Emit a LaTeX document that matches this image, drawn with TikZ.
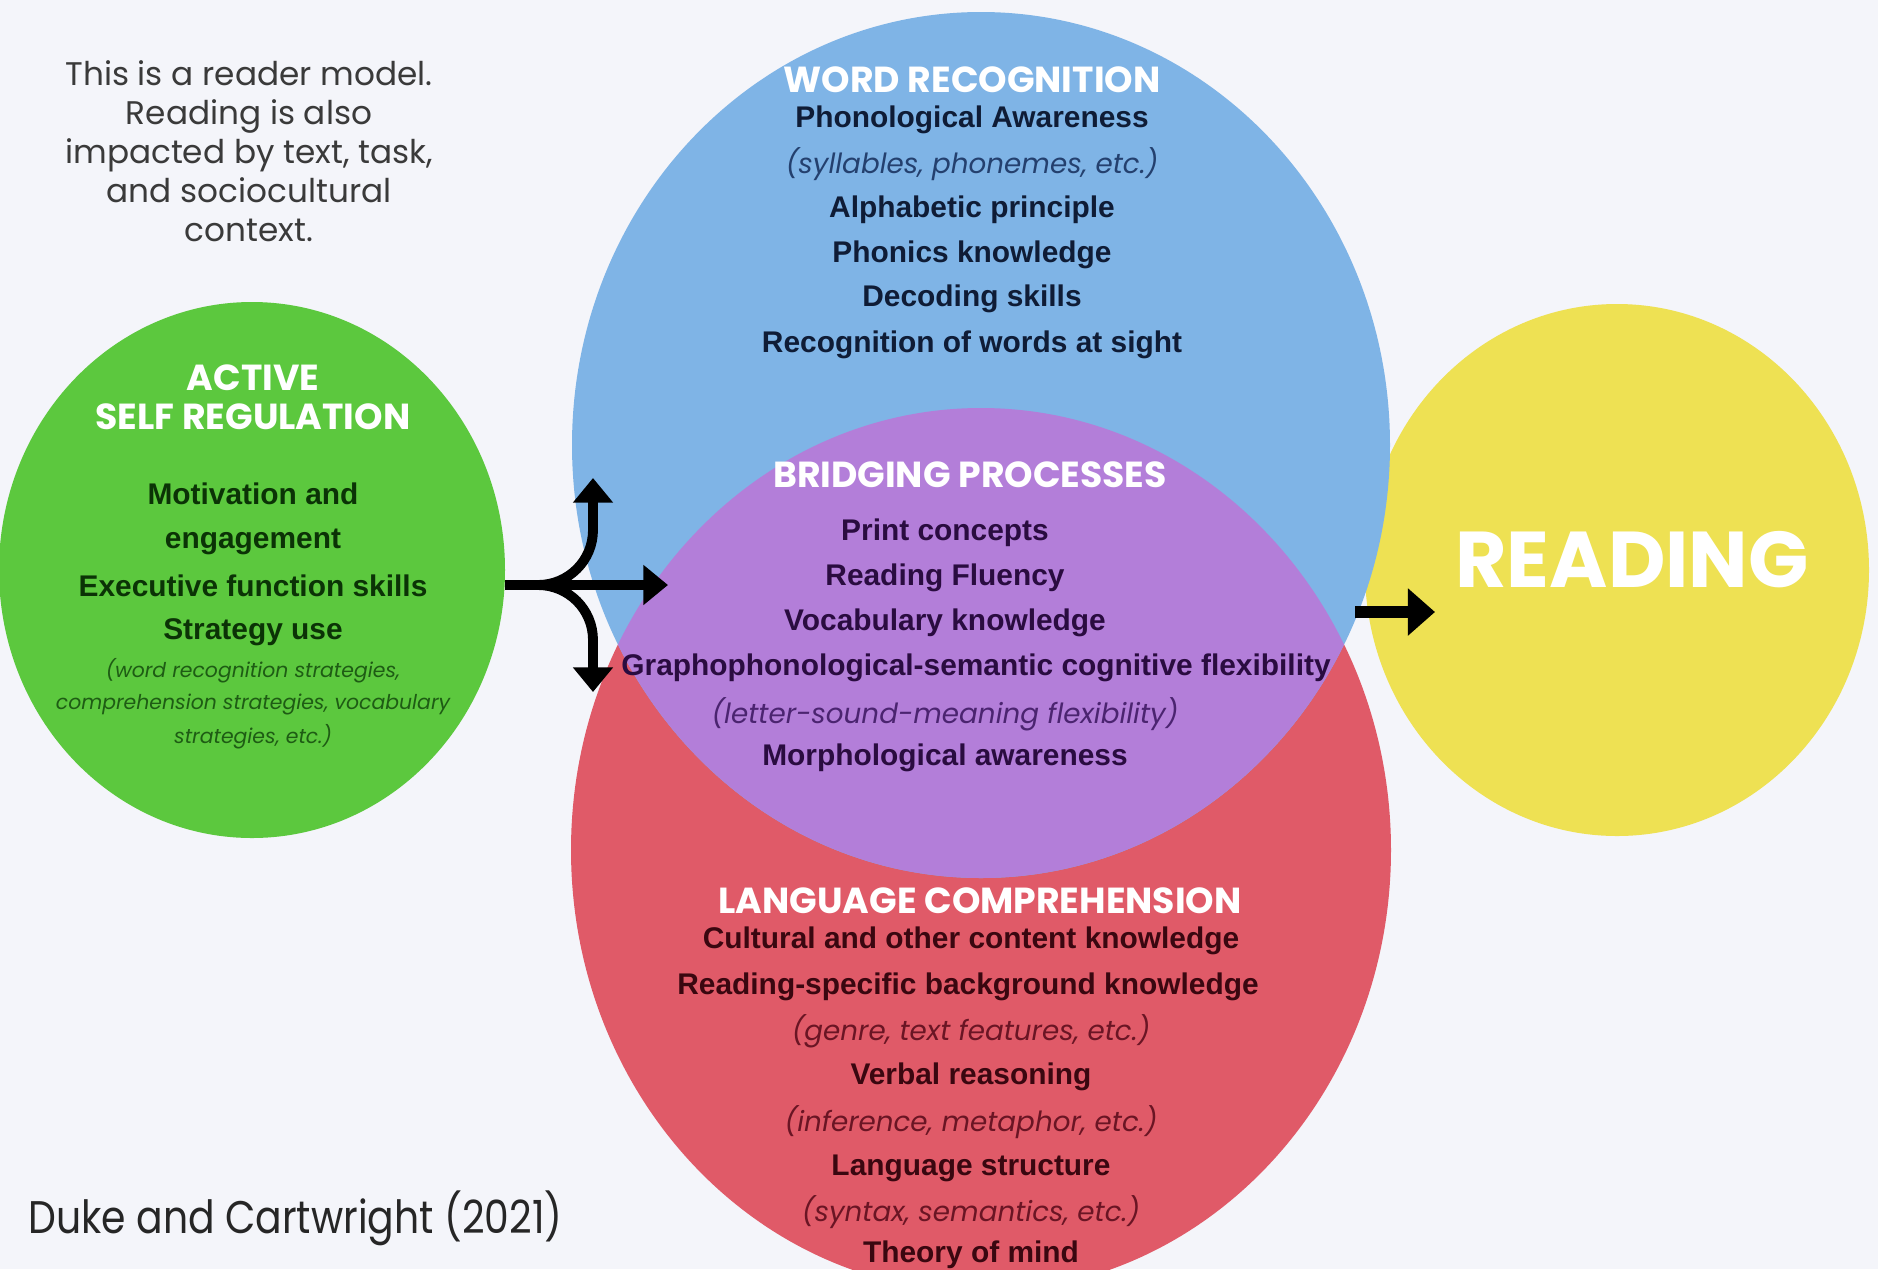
\documentclass[tikz,border=0pt]{standalone}
\usepackage{fontspec}
\setmainfont{Liberation Sans}
\newfontfamily\geofont{Poppins}
\newfontfamily\geonarrow[FakeStretch=0.86]{Poppins}
\usetikzlibrary{arrows.meta}

\definecolor{pagebg}{HTML}{F4F5FA}
\definecolor{srgreen}{HTML}{5CC83E}
\definecolor{wrblue}{HTML}{7FB4E6}
\definecolor{lcred}{HTML}{E05A68}
\definecolor{bppurple}{HTML}{B37ED9}
\definecolor{rdyellow}{HTML}{EEE153}
\definecolor{wrtext}{HTML}{0F1C36}
\definecolor{wrsub}{HTML}{24406E}
\definecolor{srtext}{HTML}{0B3306}
\definecolor{srsub}{HTML}{1E5C14}
\definecolor{bptext}{HTML}{2A0C40}
\definecolor{bpsub}{HTML}{4B2470}
\definecolor{lctext}{HTML}{3A0710}
\definecolor{lcsub}{HTML}{6A1524}
\definecolor{notegrey}{HTML}{3A3A3A}

\tikzset{
  headtxt/.style={text=white, font=\geofont\bfseries\fontsize{10.3}{12}\selectfont},
  itemtxt/.style={font=\bfseries\fontsize{8.5}{10}\selectfont},
  subtxt/.style={font=\geofont\itshape\fontsize{7.9}{10}\selectfont},
  tinytxt/.style={font=\geofont\itshape\fontsize{5.8}{7}\selectfont, text=srsub},
  forkarrow/.style={line width=2.8pt, -{Triangle[length=7pt,width=11pt]}},
}

\begin{document}
\begin{tikzpicture}[x=0.01cm,y=-0.01cm]
    \fill[pagebg] (0,0) rectangle (1878,1269);
    \useasboundingbox (0,0) rectangle (1878,1269);

    % the four circles
    \fill[srgreen] (252,570) ellipse [x radius=253, y radius=268];
    \fill[rdyellow] (1617,570) ellipse [x radius=252, y radius=266];
    \fill[lcred] (981,850) ellipse [x radius=410, y radius=442];
    \fill[wrblue] (981,445) ellipse [x radius=409, y radius=433];
    \begin{scope}
        \clip (981,445) ellipse [x radius=409, y radius=433];
        \fill[bppurple] (981,850) ellipse [x radius=410, y radius=442];
    \end{scope}

    % note and source
    \node[text=notegrey, align=center, font=\geofont\fontsize{9.3}{11.1}\selectfont] (note) at (249,151)
        {This is a reader model.\\Reading is also\\impacted by text, task,\\and sociocultural\\context.};
    \node[anchor=west, text=black!85, font=\geonarrow\fontsize{13}{15}\selectfont] (source) at (16,1218) {Duke and Cartwright (2021)};

    % active self regulation
    \node[headtxt] (srhead1) at (253,378) {ACTIVE};
    \node[headtxt] (srhead2) at (253,417) {SELF REGULATION};
    \node[itemtxt, text=srtext] (sr1) at (253,494) {Motivation and};
    \node[itemtxt, text=srtext] (sr2) at (253,542) {engagement};
    \node[itemtxt, text=srtext] (sr3) at (253,586) {Executive function skills};
    \node[itemtxt, text=srtext] (sr4) at (253,632) {Strategy use};
    \node[tinytxt] (sr5) at (253,671) {(word recognition strategies,};
    \node[tinytxt] (sr6) at (253,704) {comprehension strategies, vocabulary};
    \node[tinytxt] (sr7) at (253,737) {strategies, etc.)};

    % word recognition
    \node[headtxt] (wrhead) at (972,80) {WORD RECOGNITION};
    \node[itemtxt, text=wrtext] (wr1) at (972,120) {Phonological Awareness};
    \node[subtxt, text=wrsub] (wr2) at (972,164) {(syllables, phonemes, etc.)};
    \node[itemtxt, text=wrtext] (wr3) at (972,210) {Alphabetic principle};
    \node[itemtxt, text=wrtext] (wr4) at (972,255) {Phonics knowledge};
    \node[itemtxt, text=wrtext] (wr5) at (972,299) {Decoding skills};
    \node[itemtxt, text=wrtext] (wr6) at (972,345) {Recognition of words at sight};

    % bridging processes
    \node[headtxt] (bphead) at (970,475) {BRIDGING PROCESSES};
    \node[itemtxt, text=bptext] (bp1) at (945,533) {Print concepts};
    \node[itemtxt, text=bptext] (bp2) at (945,578) {Reading Fluency};
    \node[itemtxt, text=bptext] (bp3) at (945,623) {Vocabulary knowledge};
    \node[itemtxt, text=bptext] (bp4) at (976,668) {Graphophonological-semantic cognitive flexibility};
    \node[subtxt, text=bpsub] (bp5) at (945,714) {(letter-sound-meaning flexibility)};
    \node[itemtxt, text=bptext] (bp6) at (945,758) {Morphological awareness};

    % language comprehension
    \node[headtxt] (lchead) at (980,901) {LANGUAGE COMPREHENSION};
    \node[itemtxt, text=lctext] (lc1) at (971,941) {Cultural and other content knowledge};
    \node[itemtxt, text=lctext] (lc2) at (968,987) {Reading-specific background knowledge};
    \node[subtxt, text=lcsub] (lc3) at (971,1031) {(genre, text features, etc.)};
    \node[itemtxt, text=lctext] (lc4) at (971,1077) {Verbal reasoning};
    \node[subtxt, text=lcsub] (lc5) at (971,1122) {(inference, metaphor, etc.)};
    \node[itemtxt, text=lctext] (lc6) at (971,1168) {Language structure};
    \node[subtxt, text=lcsub] (lc7) at (971,1212) {(syntax, semantics, etc.)};
    \node[itemtxt, text=lctext] (lc8) at (971,1255) {Theory of mind};

    % reading
    \node[text=white, font=\geofont\bfseries\fontsize{22.5}{26}\selectfont] (reading) at (1632,560) {READING};

    % arrows
    \coordinate (srout) at (505,585);
    \coordinate (fork) at (538,585);
    \coordinate (upbend) at (593,530);
    \coordinate (uptip) at (593,478);
    \coordinate (dnbend) at (593,640);
    \coordinate (dntip) at (593,692);
    \coordinate (bptip) at (668,585);
    \draw[forkarrow] (srout) -- (bptip);
    \draw[forkarrow] (srout) -- (fork) to[out=0,in=-90] (upbend) -- (uptip);
    \draw[forkarrow] (srout) -- (fork) to[out=0,in=90] (dnbend) -- (dntip);

    \coordinate (rdin) at (1355,612);
    \coordinate (rdtip) at (1435,612);
    \draw[line width=3.4pt, -{Triangle[length=7.7pt,width=13pt]}] (rdin) -- (rdtip);
\end{tikzpicture}
\end{document}
